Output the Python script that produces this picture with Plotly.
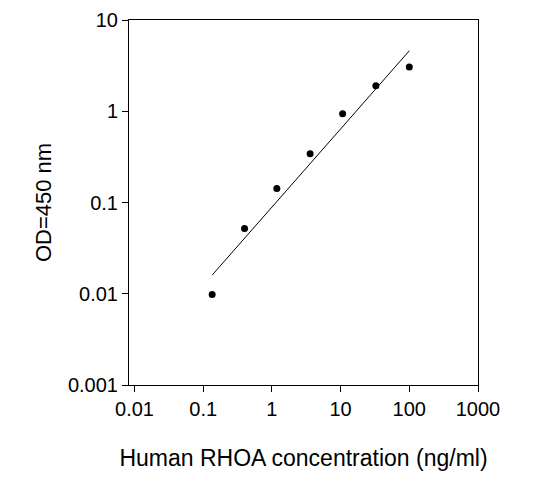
import plotly.graph_objects as go

conc = [0.135, 0.40, 1.18, 3.6, 10.7, 32.6, 100]
od = [0.0098, 0.052, 0.142, 0.343, 0.94, 1.9, 3.06]
fit_x = [0.135, 100]
fit_y = [0.016, 4.6]
x_ticks = [0.01, 0.1, 1, 10, 100, 1000]
y_ticks = [0.001, 0.01, 0.1, 1, 10]

fig = go.Figure()
fig.add_trace(go.Scatter(x=fit_x, y=fit_y, mode='lines', line=dict(color='black', width=1)))
fig.add_trace(go.Scatter(x=conc, y=od, mode='markers', marker=dict(color='black', size=7)))

fig.update_layout(
    width=557, height=495,
    margin=dict(l=121, r=87, t=12, b=118, autoexpand=False),
    plot_bgcolor='white', paper_bgcolor='white',
    showlegend=False,
    font=dict(family='Liberation Sans, Arial', color='black', size=20),
)
fig.update_xaxes(type='log', range=[-2.08, 3.0], tickvals=x_ticks,
                 ticktext=[str(v) for v in x_ticks], automargin=False,
                 showgrid=False, zeroline=False, showline=True, linecolor='black',
                 mirror=True, ticks='outside', ticklen=6, tickcolor='black',
                 title=dict(text='Human RHOA concentration (ng/ml)', font=dict(size=23), standoff=30))
fig.update_yaxes(type='log', range=[-3, 1], tickvals=y_ticks,
                 ticktext=[str(v) for v in y_ticks], automargin=False,
                 showgrid=False, zeroline=False, showline=True, linecolor='black',
                 mirror=True, ticks='outside', ticklen=6, tickcolor='black',
                 title=dict(text='OD=450 nm', font=dict(size=22), standoff=10))

fig.write_html("out.html")
